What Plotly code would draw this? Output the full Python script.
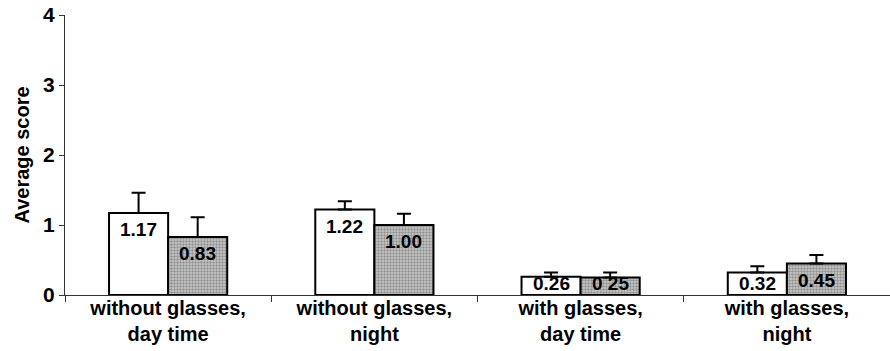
import plotly.graph_objects as go

categories = ["without glasses,<br>day time", "without glasses,<br>night",
              "with glasses,<br>day time", "with glasses,<br>night"]
series_a = [1.17, 1.22, 0.26, 0.32]
series_b = [0.83, 1.00, 0.25, 0.45]
err_a = [0.29, 0.12, 0.06, 0.09]
err_b = [0.28, 0.16, 0.07, 0.12]
labels_a = ["1.17", "1.22", "0.26", "0.32"]
labels_b = ["0.83", "1.00", "0 25", "0.45"]
y_ticks = [0, 1, 2, 3, 4]

FONT = "Liberation Sans, Arial, Helvetica, sans-serif"
W, H = 890, 351
M = dict(l=65, r=0, t=15, b=56)
BARGAP = 0.427
YMAX = 4

fig = go.Figure()
fig.add_trace(go.Bar(
    x=categories, y=series_a,
    marker=dict(color="white", line=dict(color="black", width=2)),
    error_y=dict(type="data", array=err_a, arrayminus=[0]*4, symmetric=False,
                 color="black", thickness=2, width=7),
    showlegend=False,
))
fig.add_trace(go.Bar(
    x=categories, y=series_b,
    marker=dict(color="#cccccc", line=dict(color="black", width=2),
                pattern=dict(shape=".", fgcolor="#555555", size=3, solidity=0.5)),
    error_y=dict(type="data", array=err_b, arrayminus=[0]*4, symmetric=False,
                 color="black", thickness=2, width=7),
    showlegend=False,
))

# value labels inside bars (annotations so small bars keep text above the axis)
plot_w = W - M["l"] - M["r"]
plot_h = H - M["t"] - M["b"]
bar_w = plot_w / len(categories) * (1 - BARGAP) / 2
px_per_unit = plot_h / YMAX
for vals, labs, sign in ((series_a, labels_a, -1), (series_b, labels_b, 1)):
    for cat, v, lab in zip(categories, vals, labs):
        small = v * px_per_unit < 30
        fig.add_annotation(
            x=cat, y=0 if small else v, xref="x", yref="y",
            text=lab, showarrow=False,
            xshift=sign * bar_w / 2,
            yanchor="bottom" if small else "top",
            yshift=-1 if small else -4,
            font=dict(family=FONT, size=19, color="black", weight="bold"),
        )

fig.update_layout(
    width=W, height=H,
    margin=M,
    paper_bgcolor="white", plot_bgcolor="white",
    barmode="group", bargap=BARGAP, bargroupgap=0,
    font=dict(family=FONT, color="black"),
)
fig.update_xaxes(
    showline=True, linecolor="#333", linewidth=1,
    ticks="outside", tickson="boundaries", ticklen=6, tickcolor="#333",
    ticklabelstandoff=-5,
    tickfont=dict(family=FONT, size=20, color="black", weight="bold"),
    showgrid=False, zeroline=False,
)
fig.update_yaxes(
    range=[0, YMAX], tickvals=y_ticks,
    showline=True, linecolor="#333", linewidth=1,
    ticks="outside", ticklen=5, tickcolor="#333",
    tickfont=dict(family=FONT, size=21, color="black", weight="bold"),
    title=dict(text="Average score", font=dict(family=FONT, size=20, color="black", weight="bold"), standoff=8),
    showgrid=False, zeroline=False,
)

fig.write_html("out.html")
